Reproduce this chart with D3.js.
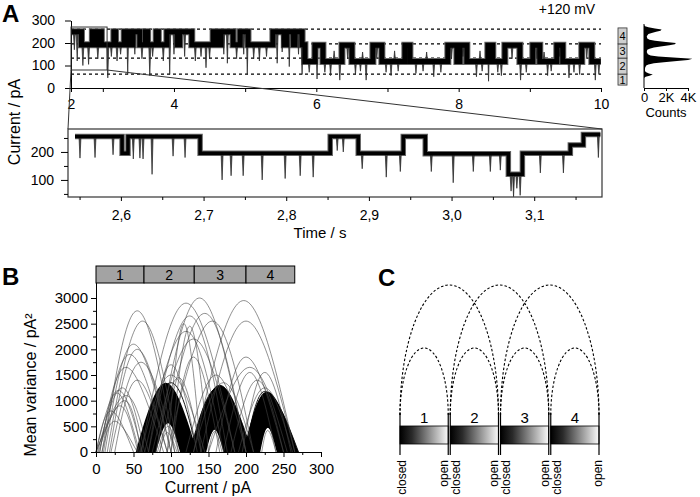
<!DOCTYPE html>
<html>
<head>
<meta charset="utf-8">
<script src="https://cdn.jsdelivr.net/npm/d3@7"></script>
<style>
  body { margin: 0; background: #fff; }
  svg { display: block; font-family: "Liberation Sans", Arial, sans-serif; }
</style>
</head>
<body>
<div id="chart"></div>
<script>
// ---- Panel A : current trace (+120 mV) ----
const voltageLabel = "+120 mV";
const traceStart = 2.553, traceEnd = 9.997;
// [start time (s), current level (pA)]
const traceSegments = [
  [2.553, 250], [2.70, 192], [2.853, 250], [2.885, 192], [2.955, 250], [2.98, 192],
  [3.155, 250], [3.18, 192], [3.30, 250], [3.36, 192], [3.42, 250], [3.52, 192],
  [3.60, 250], [3.63, 192], [3.75, 250], [3.78, 192], [3.90, 250], [4.05, 192],
  [4.08, 250], [4.25, 192], [4.55, 250], [4.62, 192], [4.66, 250], [4.83, 192],
  [4.93, 250], [5.04, 192], [5.39, 250], [5.55, 192], [5.58, 250], [5.68, 192],
  [5.70, 250], [5.80, 192], [5.84, 118], [5.98, 190], [6.093, 118], [6.36, 190],
  [6.50, 118], [6.795, 190], [6.921, 118], [7.244, 190], [7.315, 118], [7.848, 190],
  [7.975, 118], [8.017, 190], [8.115, 118], [8.41, 190], [8.48, 118], [8.649, 190],
  [8.86, 118], [9.042, 190], [9.14, 118], [9.379, 190], [9.463, 118], [9.73, 190],
  [9.871, 118]
];
// brief excursions [time (s), current reached (pA)]
const traceSpikes = [
  [2.60, 170], [2.64, 120], [2.72, 100], [2.80, 105], [2.93, 130], [3.07, 45],
  [3.12, 140], [3.20, 120], [3.25, 150], [3.35, 60], [3.45, 150], [3.55, 130],
  [3.66, 55], [3.70, 140], [3.85, 120], [3.94, 60], [4.00, 150], [4.15, 140],
  [4.30, 120], [4.38, 140], [4.45, 90], [4.50, 130], [4.70, 150], [4.75, 110],
  [4.88, 130], [4.98, 150], [5.03, 60], [5.12, 130], [5.20, 120], [5.30, 140],
  [5.45, 110], [5.52, 160], [5.62, 95], [5.75, 150], [5.80, 60],
  [5.90, 70], [6.01, 40], [6.12, 70], [6.20, 55], [6.25, 165], [6.33, 35],
  [6.44, 130], [6.55, 60], [6.62, 75], [6.65, 160], [6.70, 35], [6.85, 130],
  [6.98, 70], [7.05, 55], [7.10, 165], [7.15, 75], [7.40, 65], [7.50, 75],
  [7.55, 160], [7.65, 50], [7.75, 70], [7.90, 130], [8.06, 140], [8.25, 50],
  [8.30, 165], [8.33, 75], [8.42, 30], [8.55, 70], [8.60, 55], [8.75, 130],
  [8.87, 35], [8.95, 70], [9.10, 130], [9.20, 160], [9.25, 55], [9.30, 75],
  [9.42, 140], [9.55, 45], [9.62, 70], [9.70, 60], [9.80, 130], [9.92, 35], [9.97, 60]
];
const stateThresholds = [62, 133, 196, 262];          // dashed lines (pA)
const stateBoxLevels = [13, 62, 133, 196, 267];       // side boxes 1..4 (pA)
const stateNames = ["1", "2", "3", "4"];
const topTicks = [traceStart, 3, 4, 5, 6, 7, 8, 9, 10];
const topTickLabels = ["2", "", "4", "", "6", "", "8", "", "10"];
const zoomWindow = { t0: 2.553, t1: 3.06, v0: 80, v1: 271 };

// all-points histogram
const histCurrent = [45, 50, 55, 60, 65, 70, 75, 80, 90, 100, 105, 110, 115, 120, 125, 130, 135, 140,
  145, 150, 160, 170, 175, 180, 185, 190, 195, 200, 205, 210, 215, 220, 230, 240, 245, 250,
  255, 260, 265, 270, 275, 280];
const histCounts = [0, 150, 500, 800, 450, 200, 100, 80, 100, 200, 400, 900, 1800, 3000, 4000, 4400,
  3000, 1300, 600, 350, 250, 300, 500, 900, 1500, 2300, 2800, 2900, 2000, 1000, 500, 300,
  250, 400, 700, 1100, 1500, 1600, 1000, 400, 100, 0];

// ---- Panel A : expanded section ----
const insetEnd = 3.180;
const insetSegments = [
  [2.5445, 255], [2.6014, 195], [2.6086, 255], [2.6958, 195], [2.8532, 255], [2.8871, 195],
  [2.9416, 255], [2.9682, 194], [3.0687, 120], [3.0857, 195], [3.1437, 225], [3.1595, 262]
];
const insetSpikes = [
  [2.5505, 178], [2.5687, 180], [2.5905, 190], [2.615, 175], [2.623, 178], [2.6268, 175],
  [2.6377, 120], [2.6631, 185], [2.6776, 180], [2.7224, 100], [2.7333, 115], [2.7479, 115],
  [2.7709, 100], [2.7987, 105], [2.8169, 115], [2.8326, 110], [2.8617, 205], [2.869, 200],
  [2.8919, 140], [2.921, 110], [2.938, 130], [2.9755, 130], [3.002, 90], [3.0263, 130],
  [3.0469, 130], [3.059, 135], [3.072, 60], [3.075, 40], [3.079, 70], [3.083, 45],
  [3.1074, 125], [3.1353, 125], [3.1776, 180]
];
const insetTicksMajor = [2.6, 2.7, 2.8, 2.9, 3.0, 3.1];
const insetTicksMinor = [2.55, 2.65, 2.75, 2.85, 2.95, 3.05, 3.15];

// ---- Panel B : mean variance vs current ----
const bStateBounds = [0, 64, 131, 200, 265];
// [start pA, peak pA, end pA, peak variance]
const sparseCurves = [
  [0, 30, 62, 1200], [2, 35, 65, 1250], [5, 28, 58, 1150], [0, 38, 60, 1000], [3, 32, 56, 900],
  [8, 25, 55, 600], [0, 40, 70, 1100], [0, 20, 50, 800],
  [10, 55, 105, 2750], [15, 62, 110, 2550], [12, 50, 100, 2100], [18, 55, 100, 2000],
  [8, 45, 95, 1900], [20, 60, 105, 1750], [5, 40, 90, 1650], [25, 55, 95, 1400],
  [60, 120, 185, 2900], [80, 138, 200, 3000], [70, 125, 175, 2650], [85, 145, 200, 2700],
  [95, 155, 210, 2550], [65, 120, 170, 2350], [75, 130, 185, 2200], [95, 117, 140, 2500],
  [100, 125, 150, 2450], [70, 100, 135, 1700], [60, 100, 145, 1500], [80, 110, 140, 1450],
  [120, 160, 200, 1500], [130, 170, 210, 1350], [100, 130, 165, 1850],
  [130, 197, 265, 2950], [140, 200, 265, 2550], [160, 200, 250, 1850], [170, 205, 240, 1550],
  [195, 225, 260, 1550], [190, 225, 262, 1250], [150, 205, 255, 1650], [180, 215, 250, 1400]
];
const clusterOuter = [[53, 93, 135, 1350], [125, 165, 208, 1300], [197, 228, 270, 1180]];
const clusterInner = [[80, 96, 112, 560], [147, 158, 170, 440], [219, 229, 241, 470]];
const clusterCurves = [
  [55, 95, 130, 1300], [58, 92, 128, 1200], [62, 96, 132, 1100], [65, 98, 130, 950],
  [60, 90, 120, 1000], [68, 95, 125, 800], [72, 97, 122, 700], [75, 96, 118, 600],
  [57, 100, 135, 1350], [70, 94, 126, 900],
  [125, 162, 205, 1250], [128, 165, 208, 1300], [132, 160, 200, 1100], [135, 163, 195, 950],
  [138, 160, 190, 800], [142, 158, 180, 600], [130, 168, 206, 1200], [140, 162, 188, 700],
  [145, 159, 175, 450], [127, 158, 198, 1150],
  [197, 228, 268, 1150], [200, 230, 265, 1100], [203, 226, 260, 1000], [206, 229, 256, 850],
  [209, 228, 252, 700], [212, 228, 248, 600], [215, 229, 244, 480], [199, 225, 262, 1180],
  [205, 232, 270, 1050], [210, 230, 255, 800]
];
const holeCurves = [[82, 96, 110, 500], [85, 95, 108, 380], [150, 158, 168, 400], [221, 229, 240, 420]];

// ---- Panel C : gating scheme ----
const gateStates = ["1", "2", "3", "4"];
// [closed side of, open side of, arc level]
const gateTransitions = [["1", "1", 1], ["2", "2", 1], ["3", "3", 1], ["4", "4", 1],
  ["1", "2", 2], ["2", "3", 2], ["3", "4", 2]];

const svg = d3.select("#chart").append("svg").attr("width", 700).attr("height", 497);
svg.append("rect").attr("width", 700).attr("height", 497).attr("fill", "#fff");

function styleAxis(g, size) {
  g.selectAll("path,line").attr("stroke", "#000").attr("stroke-width", 1);
  g.selectAll("text").attr("font-size", size).attr("font-family", "Liberation Sans, Arial, sans-serif").attr("fill", "#000");
}

function levelAt(segs, t) {
  let lv = segs[0][1];
  segs.forEach(s => { if (s[0] <= t) lv = s[1]; });
  return lv;
}

function drawTrace(g, segs, spikes, endT, x, y, w) {
  const pts = segs.concat([[endT, segs[segs.length - 1][1]]]);
  const line = d3.line().x(d => x(d[0])).y(d => y(d[1])).curve(d3.curveStepAfter);
  g.append("path").attr("d", line(pts)).attr("fill", "none").attr("stroke", "#666").attr("stroke-width", w + 2);
  g.selectAll(null).data(spikes).enter().append("path")
    .attr("d", d => {
      const x0 = x(d[0]), yl = y(levelAt(segs, d[0]));
      return `M${x0 - 1},${yl}L${x0},${y(d[1])}L${x0 + 1},${yl}`;
    })
    .attr("fill", "#444").attr("stroke", "#222").attr("stroke-width", 0.7);
  g.append("path").attr("d", line(pts)).attr("fill", "none").attr("stroke", "#000").attr("stroke-width", w);
}

// ================= Panel A =================
svg.append("text").attr("x", 2).attr("y", 22).attr("font-size", 24).attr("font-weight", "bold").text("A");

const xTop = d3.scaleLinear().domain([traceStart, 10]).range([71, 601]);
const yTop = d3.scaleLinear().domain([0, 300]).range([88, 20.5]);

svg.selectAll(".thr").data(stateThresholds).enter().append("line")
  .attr("x1", xTop(traceStart)).attr("x2", xTop(10))
  .attr("y1", d => yTop(d)).attr("y2", d => yTop(d))
  .attr("stroke", "#000").attr("stroke-width", 1.2).attr("stroke-dasharray", "3,3");

drawTrace(svg.append("g"), traceSegments, traceSpikes, traceEnd, xTop, yTop, 5);

const gxTop = svg.append("g").attr("transform", "translate(0,88)")
  .call(d3.axisBottom(xTop).tickValues(topTicks).tickFormat((d, i) => topTickLabels[i]).tickSize(4).tickSizeOuter(0).tickPadding(7));
styleAxis(gxTop, 14);
const gyTop = svg.append("g").attr("transform", "translate(71,0)")
  .call(d3.axisLeft(yTop).tickValues([0, 100, 200, 300]).tickSize(6).tickSizeOuter(0).tickPadding(10));
styleAxis(gyTop, 14);

// zoom window
svg.append("rect").attr("x", xTop(zoomWindow.t0)).attr("y", yTop(zoomWindow.v1))
  .attr("width", xTop(zoomWindow.t1) - xTop(zoomWindow.t0)).attr("height", yTop(zoomWindow.v0) - yTop(zoomWindow.v1))
  .attr("fill", "none").attr("stroke", "#333").attr("stroke-width", 1);

svg.append("text").attr("x", 567).attr("y", 14).attr("text-anchor", "middle").attr("font-size", 14).text(voltageLabel);

// state boxes
svg.selectAll(".sbox").data(stateNames).enter().append("rect")
  .attr("x", 618).attr("width", 9)
  .attr("y", (d, i) => yTop(stateBoxLevels[i + 1]))
  .attr("height", (d, i) => yTop(stateBoxLevels[i]) - yTop(stateBoxLevels[i + 1]))
  .attr("fill", "#cfcfcf").attr("stroke", "#333").attr("stroke-width", 0.8);
svg.selectAll(".slab").data(stateNames).enter().append("text")
  .attr("x", 622.5).attr("y", (d, i) => (yTop(stateBoxLevels[i]) + yTop(stateBoxLevels[i + 1])) / 2 + 4)
  .attr("text-anchor", "middle").attr("font-size", 11).text(d => d);

// histogram
const hx = d3.scaleLinear().domain([0, 4000]).range([644, 688]);
const histData = histCurrent.map((c, i) => [c, histCounts[i]]);
svg.append("path").datum(histData)
  .attr("d", d3.area().y(d => yTop(d[0])).x0(hx(0)).x1(d => hx(d[1])))
  .attr("fill", "#000");
svg.append("line").attr("x1", 644).attr("x2", 644).attr("y1", 24).attr("y2", 88).attr("stroke", "#000");
const gHist = svg.append("g").attr("transform", "translate(0,88)")
  .call(d3.axisBottom(hx).tickValues([0, 2000, 4000]).tickFormat(d => d === 0 ? "0" : (d / 1000) + "K").tickSize(3).tickSizeOuter(0).tickPadding(2));
styleAxis(gHist, 13);
svg.append("text").attr("x", 666).attr("y", 117).attr("text-anchor", "middle").attr("font-size", 13).text("Counts");

// ---- inset ----
const xIn = d3.scaleLinear().domain([2.536, 3.182]).range([68, 602]);
const yIn = d3.scaleLinear().domain([39, 282]).range([197, 129]);

svg.append("line").attr("x1", xTop(zoomWindow.t0)).attr("y1", yTop(zoomWindow.v0)).attr("x2", xIn.range()[0]).attr("y2", yIn.range()[1]).attr("stroke", "#333");
svg.append("line").attr("x1", xTop(zoomWindow.t1)).attr("y1", yTop(zoomWindow.v0)).attr("x2", xIn.range()[1]).attr("y2", yIn.range()[1]).attr("stroke", "#333");

drawTrace(svg.append("g"), insetSegments, insetSpikes, insetEnd, xIn, yIn, 3.5);

svg.append("rect").attr("x", 68).attr("y", 129).attr("width", 534).attr("height", 68)
  .attr("fill", "none").attr("stroke", "#333").attr("stroke-width", 1.2);

const commaFmt = d => d.toFixed(1).replace(".", ",");
const gxIn = svg.append("g").attr("transform", "translate(0,197)")
  .call(d3.axisBottom(xIn).tickValues(insetTicksMajor).tickFormat(commaFmt).tickSize(4).tickSizeOuter(0).tickPadding(9));
styleAxis(gxIn, 14);
gxIn.select(".domain").remove();
const gxIn2 = svg.append("g").attr("transform", "translate(0,197)")
  .call(d3.axisBottom(xIn).tickValues(insetTicksMinor).tickFormat("").tickSize(3).tickSizeOuter(0));
styleAxis(gxIn2, 14);
gxIn2.select(".domain").remove();
const gyIn = svg.append("g").attr("transform", "translate(68,0)")
  .call(d3.axisLeft(yIn).tickValues([100, 200]).tickSize(7).tickSizeOuter(0).tickPadding(7));
styleAxis(gyIn, 14);
gyIn.select(".domain").remove();
const gyIn2 = svg.append("g").attr("transform", "translate(68,0)")
  .call(d3.axisLeft(yIn).tickValues([50, 150, 250]).tickFormat("").tickSize(4).tickSizeOuter(0));
styleAxis(gyIn2, 14);
gyIn2.select(".domain").remove();

svg.append("text").attr("x", 320).attr("y", 238).attr("text-anchor", "middle").attr("font-size", 15).text("Time / s");
svg.append("text").attr("transform", "translate(20,122) rotate(-90)").attr("text-anchor", "middle").attr("font-size", 16).text("Current / pA");

// ================= Panel B =================
svg.append("text").attr("x", 2).attr("y", 285).attr("font-size", 24).attr("font-weight", "bold").text("B");

const xB = d3.scaleLinear().domain([0, 300]).range([96, 321]);
const yB = d3.scaleLinear().domain([0, 3300]).range([452, 282.6]);
const archLine = d3.line().x(d => xB(d[0])).y(d => yB(d[1])).curve(d3.curveNatural);
const arch = c => archLine([[c[0], 0], [c[1], c[3]], [c[2], 0]]);

const gB = svg.append("g");
gB.selectAll(".cl").data(clusterOuter).enter().append("path")
  .attr("d", (d, i) => arch(d) + "Z" + arch(clusterInner[i]) + "Z")
  .attr("fill", "#000").attr("fill-rule", "evenodd");
gB.selectAll(".cc").data(clusterCurves).enter().append("path")
  .attr("d", arch).attr("fill", "none").attr("stroke", "#000").attr("stroke-width", 0.9);
gB.selectAll(".hc").data(holeCurves).enter().append("path")
  .attr("d", arch).attr("fill", "none").attr("stroke", "#555").attr("stroke-width", 0.6);
gB.selectAll(".sc").data(sparseCurves).enter().append("path")
  .attr("d", arch).attr("fill", "none").attr("stroke", "#444").attr("stroke-width", 0.6);

const gxB = svg.append("g").attr("transform", "translate(0,452)")
  .call(d3.axisBottom(xB).tickValues(d3.range(0, 301, 50)).tickFormat(d3.format("d")).tickSize(5).tickSizeOuter(0).tickPadding(6));
styleAxis(gxB, 15);
const gxB2 = svg.append("g").attr("transform", "translate(0,452)")
  .call(d3.axisBottom(xB).tickValues(d3.range(25, 300, 50)).tickFormat("").tickSize(3).tickSizeOuter(0));
styleAxis(gxB2, 15);
const gyB = svg.append("g").attr("transform", "translate(96,0)")
  .call(d3.axisLeft(yB).tickValues(d3.range(0, 3001, 500)).tickFormat(d3.format("d")).tickSize(5).tickSizeOuter(0).tickPadding(3));
styleAxis(gyB, 15);
const gyB2 = svg.append("g").attr("transform", "translate(96,0)")
  .call(d3.axisLeft(yB).tickValues(d3.range(250, 3001, 500)).tickFormat("").tickSize(3).tickSizeOuter(0));
styleAxis(gyB2, 15);

// state bar on top
svg.selectAll(".bst").data(stateNames).enter().append("rect")
  .attr("x", (d, i) => xB(bStateBounds[i])).attr("y", 266)
  .attr("width", (d, i) => xB(bStateBounds[i + 1]) - xB(bStateBounds[i])).attr("height", 17)
  .attr("fill", "#a3a3a3").attr("stroke", "#000").attr("stroke-width", 1);
svg.selectAll(".bsl").data(stateNames).enter().append("text")
  .attr("x", (d, i) => (xB(bStateBounds[i]) + xB(bStateBounds[i + 1])) / 2).attr("y", 280)
  .attr("text-anchor", "middle").attr("font-size", 14).text(d => d);

svg.append("text").attr("x", 208).attr("y", 493).attr("text-anchor", "middle").attr("font-size", 16).text("Current / pA");
svg.append("text").attr("transform", "translate(36,385) rotate(-90)").attr("text-anchor", "middle").attr("font-size", 16)
  .text("Mean variance / pA²");

// ================= Panel C =================
svg.append("text").attr("x", 378).attr("y", 286).attr("font-size", 24).attr("font-weight", "bold").text("C");

const xC = d3.scaleBand().domain(gateStates).range([400, 599]).paddingInner(0.04);
const defs = svg.append("defs");
const grad = defs.append("linearGradient").attr("id", "gateGrad").attr("x1", 0).attr("x2", 1).attr("y1", 0).attr("y2", 0);
grad.append("stop").attr("offset", 0).attr("stop-color", "#000");
grad.append("stop").attr("offset", 0.25).attr("stop-color", "#2a2a2a");
grad.append("stop").attr("offset", 1).attr("stop-color", "#fafafa");

const arcTop = d3.scaleOrdinal().domain([1, 2]).range([348, 285]);
const arcBase = 415;
svg.selectAll(".garc").data(gateTransitions).enter().append("path")
  .attr("d", d => {
    const x0 = xC(d[0]), x1 = xC(d[1]) + xC.bandwidth();
    return `M${x0},${arcBase}A${(x1 - x0) / 2},${arcBase - arcTop(d[2])} 0 0 1 ${x1},${arcBase}`;
  })
  .attr("fill", "none").attr("stroke", "#000").attr("stroke-width", 1.1).attr("stroke-dasharray", "2.5,2");

svg.selectAll(".gbar").data(gateStates).enter().append("rect")
  .attr("x", d => xC(d)).attr("y", 426).attr("width", xC.bandwidth()).attr("height", 18)
  .attr("fill", "url(#gateGrad)").attr("stroke", "#000").attr("stroke-width", 0.8);
svg.selectAll(".gnum").data(gateStates).enter().append("text")
  .attr("x", d => xC(d) + xC.bandwidth() / 2).attr("y", 423)
  .attr("text-anchor", "middle").attr("font-size", 15).text(d => d);

const edges = [];
gateStates.forEach((s, i) => {
  edges.push({ x: xC(s), label: "closed", off: i === 0 ? 2 : 6 });
  edges.push({ x: xC(s) + xC.bandwidth(), label: "open", off: i === gateStates.length - 1 ? -1 : -4 });
});
svg.selectAll(".gedge").data(edges).enter().append("line")
  .attr("x1", d => d.x).attr("x2", d => d.x).attr("y1", 413).attr("y2", 455)
  .attr("stroke", "#000").attr("stroke-width", 1.2);
svg.selectAll(".glab").data(edges).enter().append("text")
  .attr("transform", d => `translate(${d.x + d.off},460) rotate(-90)`)
  .attr("dy", "0.32em").attr("text-anchor", "end").attr("font-size", 12).text(d => d.label);
</script>
</body>
</html>
